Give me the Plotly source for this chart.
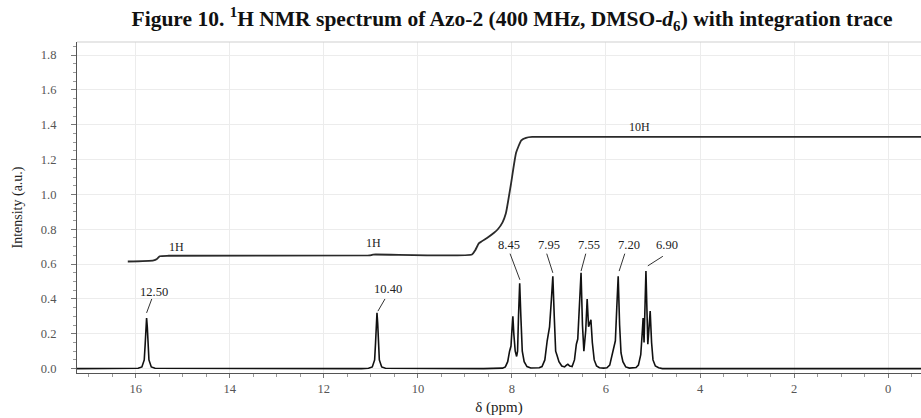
import plotly.graph_objects as go

# ---------------- data ----------------
# 1H NMR spectrum trace (chemical shift in ppm, intensity in a.u.)
spec_ppm = [17.25, 16.2, 15.95, 15.87, 15.82, 15.80, 15.785, 15.77, 15.755, 15.74, 15.72, 15.67, 15.59,
            11.2, 11.05, 10.97, 10.92, 10.90, 10.885, 10.87, 10.855, 10.84, 10.82, 10.77, 10.69,
            8.6, 8.20, 8.14, 8.09, 8.05, 8.04, 8.02, 8.00, 7.98, 7.96, 7.93, 7.90, 7.88, 7.86, 7.835, 7.81, 7.78, 7.74, 7.68,
            7.60, 7.50, 7.42, 7.36, 7.30, 7.25, 7.23, 7.20, 7.16, 7.13, 7.10, 7.07, 7.04, 7.00, 6.94, 6.88, 6.84, 6.81,
            6.77, 6.72, 6.67, 6.63, 6.60, 6.56, 6.53, 6.50, 6.47, 6.43, 6.40, 6.37, 6.34, 6.32, 6.29, 6.25, 6.20, 6.14,
            6.05, 5.98, 5.92, 5.87, 5.84, 5.80, 5.77, 5.74, 5.71, 5.68, 5.64, 5.58, 5.50,
            5.42, 5.36, 5.31, 5.26, 5.23, 5.21, 5.19, 5.17, 5.15, 5.13, 5.11, 5.08, 5.06, 5.03, 5.00, 4.95, 4.88, 4.80,
            -0.7]
spec_int = [0.0, 0.0, 0.002, 0.01, 0.05, 0.14, 0.24, 0.29, 0.24, 0.14, 0.05, 0.01, 0.002,
            0.0, 0.002, 0.01, 0.05, 0.15, 0.26, 0.32, 0.26, 0.15, 0.05, 0.01, 0.002,
            0.0, 0.003, 0.01, 0.04, 0.10, 0.12, 0.13, 0.22, 0.30, 0.20, 0.10, 0.07, 0.10, 0.30, 0.49, 0.30, 0.10, 0.04, 0.012,
            0.004, 0.003, 0.005, 0.012, 0.05, 0.16, 0.20, 0.24, 0.40, 0.53, 0.30, 0.10, 0.075, 0.04, 0.015, 0.01, 0.02, 0.025,
            0.015, 0.012, 0.05, 0.14, 0.17, 0.35, 0.55, 0.25, 0.10, 0.22, 0.40, 0.24, 0.26, 0.28, 0.15, 0.05, 0.015, 0.005,
            0.003, 0.005, 0.02, 0.08, 0.11, 0.16, 0.35, 0.53, 0.25, 0.09, 0.04, 0.01, 0.003,
            0.003, 0.006, 0.02, 0.08, 0.20, 0.29, 0.15, 0.35, 0.56, 0.35, 0.14, 0.25, 0.33, 0.15, 0.05, 0.015, 0.005, 0.0,
            0.0]

# integration trace
integ_ppm = [16.17, 15.62, 15.55, 15.49, 15.30, 11.05, 10.99, 10.95, 8.85, 8.78, 8.70, 8.53, 8.38, 8.30,
             8.20, 8.13, 8.02, 7.91, 7.80, 7.70, 7.57, 6.0, 3.0, -0.7]
integ_val = [0.615, 0.622, 0.630, 0.645, 0.648, 0.650, 0.652, 0.655, 0.655, 0.68, 0.72, 0.75, 0.78, 0.80,
             0.84, 0.89, 1.06, 1.24, 1.31, 1.325, 1.33, 1.33, 1.33, 1.33]

# peak labels
peak_labels = ["12.50", "10.40", "8.45", "7.95", "7.55", "7.20", "6.90"]
# integration labels
integ_labels = ["1H", "1H", "10H"]

# ---------------- figure ----------------
SERIF = "Liberation Serif, Times New Roman, serif"
fig = go.Figure()
fig.add_trace(go.Scatter(x=integ_ppm, y=integ_val, mode="lines",
                         line=dict(color="#2a2a2a", width=1.8, shape="spline", smoothing=0.5),
                         showlegend=False, hoverinfo="skip"))
fig.add_trace(go.Scatter(x=spec_ppm, y=spec_int, mode="lines",
                         line=dict(color="#111111", width=1.6),
                         showlegend=False))

# peak label placement (ppm, intensity) and leader lines
label_pos = [(15.62, 0.44), (10.64, 0.455), (8.06, 0.71), (7.21, 0.71), (6.36, 0.71), (5.51, 0.71), (4.70, 0.71)]
leaders = [((15.66, 0.40), (15.77, 0.32)), ((10.70, 0.40), (10.85, 0.33)),
           ((8.04, 0.66), (7.83, 0.51)), ((7.26, 0.66), (7.13, 0.55)),
           ((6.43, 0.66), (6.53, 0.56)), ((5.60, 0.66), (5.72, 0.56)),
           ((4.79, 0.645), (5.11, 0.59))]
for txt, (x, y) in zip(peak_labels, label_pos):
    fig.add_annotation(x=x, y=y, text=txt, showarrow=False,
                       font=dict(family=SERIF, size=12.5, color="#222"))
for (a, b) in leaders:
    fig.add_shape(type="line", x0=a[0], y0=a[1], x1=b[0], y1=b[1], xref="x", yref="y",
                  line=dict(color="#333", width=1))

integ_pos = [(15.13, 0.70), (10.94, 0.72), (5.28, 1.385)]
for txt, (x, y) in zip(integ_labels, integ_pos):
    fig.add_annotation(x=x, y=y, text=txt, showarrow=False,
                       font=dict(family=SERIF, size=12, color="#222"))

# light top frame
fig.add_shape(type="line", xref="paper", yref="paper", x0=0, x1=1, y0=1, y1=1,
              line=dict(color="#cfcfcf", width=1))

fig.update_layout(
    width=921, height=418,
    margin=dict(l=77, r=0, t=42, b=45),
    paper_bgcolor="white", plot_bgcolor="white",
    title=dict(text="Figure 10. <sup>1</sup>H NMR spectrum of Azo-2 (400 MHz, DMSO-<i>d</i><sub>6</sub>) with integration trace",
               x=0.556, xanchor="center", y=0.955, yanchor="middle",
               font=dict(family=SERIF, size=21.5, color="#111", weight="bold")),
    font=dict(family=SERIF),
)
fig.update_xaxes(range=[17.25, -0.7], tickmode="linear", tick0=0, dtick=2,
                 showgrid=True, gridcolor="#ececec", gridwidth=1,
                 showline=True, linecolor="#555", linewidth=1.2,
                 ticks="outside", ticklen=4, tickcolor="#777",
                 minor=dict(dtick=0.5, tick0=0, ticks="outside", ticklen=3, tickcolor="#999", showgrid=False),
                 tickfont=dict(family=SERIF, size=12.5, color="#555"),
                 title=dict(text="δ (ppm)", font=dict(family=SERIF, size=15, color="#222"), standoff=6),
                 zeroline=False)
fig.update_yaxes(range=[-0.025, 1.875], tickmode="linear", tick0=0, dtick=0.2, tickformat=".1f",
                 showgrid=True, gridcolor="#ececec", gridwidth=1,
                 showline=True, linecolor="#555", linewidth=1.2,
                 ticks="outside", ticklen=5, tickcolor="#777", ticklabelstandoff=12,
                 minor=dict(dtick=0.05, ticks="outside", ticklen=3, tickcolor="#999", showgrid=False),
                 tickfont=dict(family=SERIF, size=12.5, color="#555"),
                 title=dict(text="Intensity (a.u.)", font=dict(family=SERIF, size=14, color="#222"), standoff=14),
                 zeroline=False)

fig.write_html("out.html")
